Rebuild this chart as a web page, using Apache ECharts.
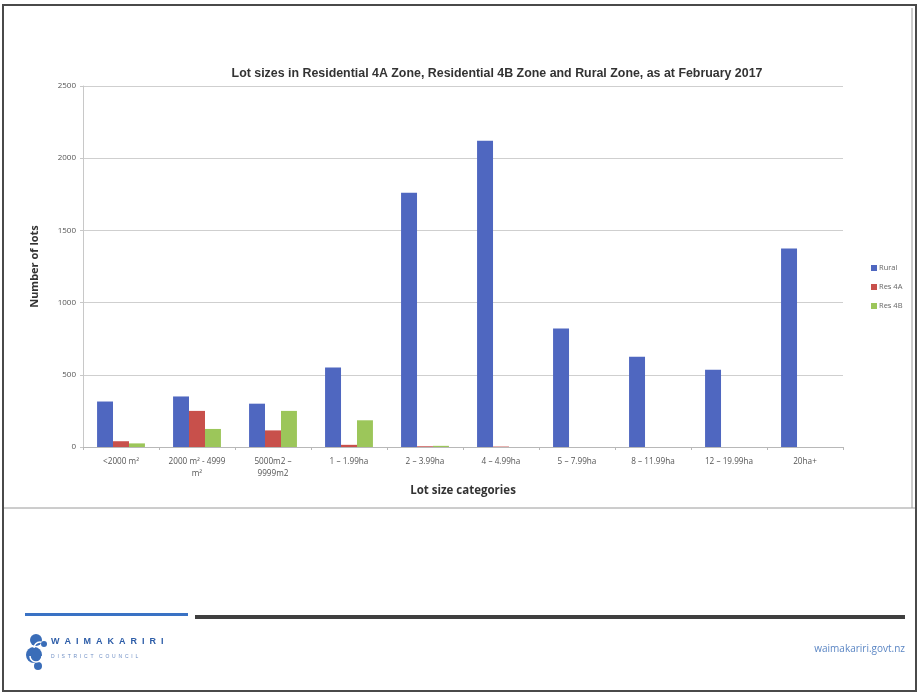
<!DOCTYPE html>
<html>
<head>
<meta charset="utf-8">
<title>Lot sizes</title>
<script src="https://cdn.jsdelivr.net/npm/echarts@6/dist/echarts.min.js"></script>
<style>
  html, body { margin: 0; padding: 0; background: #ffffff; }
  #chart { width: 919px; height: 695px; }
</style>
</head>
<body>
<div id="chart"></div>
<script>
// Lot size categories along the x axis
const categories = [
  '<2000 m²', '2000 m² - 4999\nm²', '5000m2 –\n9999m2', '1 – 1.99ha', '2 – 3.99ha',
  '4 – 4.99ha', '5 – 7.99ha', '8 – 11.99ha', '12 – 19.99ha', '20ha+'
];
// Number of lots per zone
const rural = [315, 350, 300, 550, 1760, 2120, 820, 625, 535, 1375];
const res4A = [40, 250, 115, 15, 5, 3, 0, 0, 0, 0];
const res4B = [25, 125, 250, 185, 8, 0, 0, 0, 0, 0];
const seriesNames = ['Rural', 'Res 4A', 'Res 4B'];
const yTicks = [0, 500, 1000, 1500, 2000, 2500];

const colors = ['#4f67c0', '#c8504b', '#9cc65a'];
const labelFont = '"Open Sans", "Liberation Sans", sans-serif';

const chart = echarts.init(document.getElementById('chart'), null, { renderer: 'canvas' });

chart.setOption({
  animation: false,
  backgroundColor: '#ffffff',
  color: colors,
  title: {
    text: 'Lot sizes in Residential 4A Zone, Residential 4B Zone and Rural Zone, as at February 2017',
    left: 492,
    top: 63,
    textAlign: 'center',
    textStyle: { fontFamily: '"Liberation Sans", Arial, sans-serif', fontSize: 12.4, fontWeight: 'bold', color: '#333' }
  },
  legend: {
    data: seriesNames,
    orient: 'vertical',
    left: 866,
    top: 259,
    itemWidth: 6,
    itemHeight: 6,
    itemGap: 11,
    icon: 'rect',
    textStyle: { fontFamily: labelFont, fontSize: 7.5, color: '#666', padding: [0, 0, 0, -3] }
  },
  grid: { left: 83, right: 76, top: 86, bottom: 248, containLabel: false },
  xAxis: {
    type: 'category',
    data: categories,
    name: 'Lot size categories',
    nameLocation: 'middle',
    nameGap: 35,
    nameTextStyle: { fontFamily: labelFont, fontSize: 11.5, fontWeight: 'bold', color: '#333' },
    axisLine: { lineStyle: { color: '#b8b8b8' } },
    axisTick: { show: true, length: 3, lineStyle: { color: '#b8b8b8' } },
    axisLabel: { fontFamily: labelFont, fontSize: 8.2, color: '#555', margin: 9, lineHeight: 12, interval: 0 }
  },
  yAxis: {
    type: 'value',
    min: 0,
    max: 2500,
    interval: 500,
    name: 'Number of lots',
    nameLocation: 'middle',
    nameGap: 43,
    nameRotate: 90,
    nameTextStyle: { fontFamily: labelFont, fontSize: 11, fontWeight: 'bold', color: '#333' },
    axisLine: { show: true, lineStyle: { color: '#c8c8c8' } },
    axisTick: { show: true, length: 3, lineStyle: { color: '#c8c8c8' } },
    axisLabel: {
      fontFamily: labelFont, fontSize: 8, color: '#555', margin: 7,
      formatter: v => (yTicks.includes(v) ? String(v) : '')
    },
    splitLine: { lineStyle: { color: '#cfcfcf' } }
  },
  series: [
    { name: seriesNames[0], type: 'bar', data: rural, barGap: '0%', barCategoryGap: '37%' },
    { name: seriesNames[1], type: 'bar', data: res4A, barGap: '0%', barCategoryGap: '37%' },
    { name: seriesNames[2], type: 'bar', data: res4B, barGap: '0%', barCategoryGap: '37%' }
  ],
  graphic: [
    // page frame
    { type: 'rect', shape: { x: 3, y: 5, width: 913, height: 686 }, style: { fill: 'none', stroke: '#4a4a4a', lineWidth: 2 }, silent: true, z: 100 },
    // chart frame edges
    { type: 'line', shape: { x1: 4, y1: 508, x2: 916, y2: 508 }, style: { stroke: '#9a9a9a', lineWidth: 1 }, silent: true },
    { type: 'line', shape: { x1: 912, y1: 8, x2: 912, y2: 508 }, style: { stroke: '#9a9a9a', lineWidth: 1 }, silent: true },
    // footer rules
    { type: 'rect', shape: { x: 25, y: 613, width: 163, height: 3 }, style: { fill: '#3a72c4' }, silent: true },
    { type: 'rect', shape: { x: 195, y: 615, width: 710, height: 4 }, style: { fill: '#3f3f3f' }, silent: true },
    // council emblem (stylised waves)
    { type: 'circle', shape: { cx: 36, cy: 640, r: 6 }, style: { fill: '#3a6db8' }, silent: true },
    { type: 'circle', shape: { cx: 34, cy: 655, r: 8 }, style: { fill: '#3a6db8' }, silent: true },
    { type: 'circle', shape: { cx: 38, cy: 666, r: 4 }, style: { fill: '#3a6db8' }, silent: true },
    { type: 'arc', shape: { cx: 40, cy: 648, r: 6, startAngle: Math.PI, endAngle: 2 * Math.PI }, style: { stroke: '#ffffff', lineWidth: 1.5, fill: 'none' }, silent: true },
    { type: 'arc', shape: { cx: 36, cy: 656, r: 6, startAngle: 0, endAngle: Math.PI }, style: { stroke: '#ffffff', lineWidth: 1.5, fill: 'none' }, silent: true },
    { type: 'circle', shape: { cx: 44, cy: 644, r: 3 }, style: { fill: '#3a6db8' }, silent: true },
    {
      type: 'text', left: 51, top: 637,
      style: { text: 'W  A  I  M  A  K  A  R  I  R  I', fill: '#2d5da8', font: 'bold 9px "Liberation Sans", Arial, sans-serif' },
      silent: true
    },
    {
      type: 'text', left: 51, top: 654,
      style: { text: 'D  I  S  T  R  I  C  T    C  O  U  N  C  I  L', fill: '#6f8fc4', font: '5px "Liberation Sans", Arial, sans-serif' },
      silent: true
    },
    {
      type: 'text', right: 14, top: 644,
      style: { text: 'waimakariri.govt.nz', fill: '#5b86c4', font: '10px "Open Sans", "Liberation Sans", sans-serif' },
      silent: true
    }
  ]
});
</script>
</body>
</html>
